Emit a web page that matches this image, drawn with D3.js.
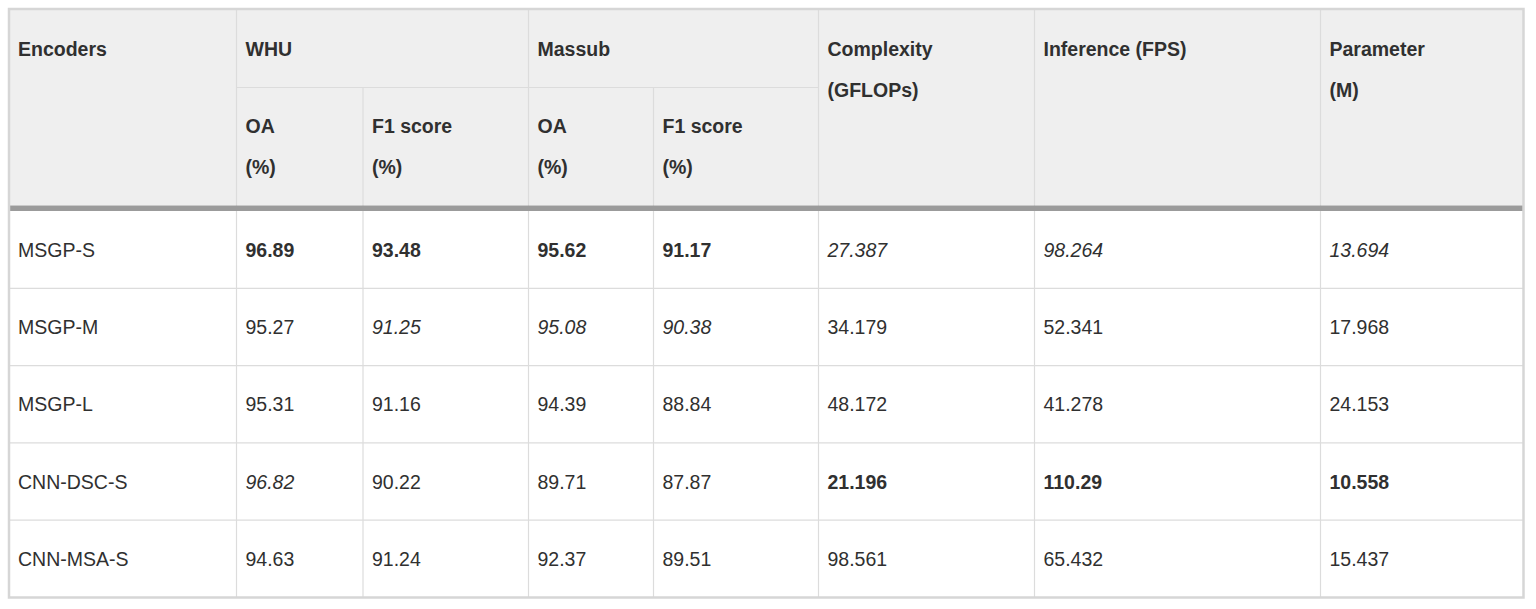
<!DOCTYPE html>
<html>
<head>
<meta charset="utf-8">
<script src="https://cdn.jsdelivr.net/npm/d3@7"></script>
<style>
  body { margin: 0; background: #fff; }
  svg text { font-family: "Liberation Sans", Arial, Helvetica, sans-serif; font-size: 19.5px; fill: #303030; }
</style>
</head>
<body>
<div id="table-wrapper"></div>
<script>
// Data
const encoders = ["MSGP-S", "MSGP-M", "MSGP-L", "CNN-DSC-S", "CNN-MSA-S"]
const whuOA   = ["96.89", "95.27", "95.31", "96.82", "94.63"]
const whuF1   = ["93.48", "91.25", "91.16", "90.22", "91.24"]
const massOA  = ["95.62", "95.08", "94.39", "89.71", "92.37"]
const massF1  = ["91.17", "90.38", "88.84", "87.87", "89.51"]
const gflops  = ["27.387", "34.179", "48.172", "21.196", "98.561"]
const fps     = ["98.264", "52.341", "41.278", "110.29", "65.432"]
const params  = ["13.694", "17.968", "24.153", "10.558", "15.437"]

// b = bold (best), i = italic (second), n = normal
const whuOAStyle  = ["b", "n", "n", "i", "n"]
const whuF1Style  = ["b", "i", "n", "n", "n"]
const massOAStyle = ["b", "i", "n", "n", "n"]
const massF1Style = ["b", "i", "n", "n", "n"]
const gflopsStyle = ["i", "n", "n", "b", "n"]
const fpsStyle    = ["i", "n", "n", "b", "n"]
const paramsStyle = ["i", "n", "n", "b", "n"]

const columns = ["enc", "whuOA", "whuF1", "massOA", "massF1", "gflops", "fps", "params"]
const groupHeaders = [
  { label: ["Encoders"], from: "enc", to: "enc" },
  { label: ["WHU"], from: "whuOA", to: "whuF1" },
  { label: ["Massub"], from: "massOA", to: "massF1" },
  { label: ["Complexity", "(GFLOPs)"], from: "gflops", to: "gflops" },
  { label: ["Inference (FPS)"], from: "fps", to: "fps" },
  { label: ["Parameter", "(M)"], from: "params", to: "params" },
]
const subHeaders = [
  { col: "whuOA", label: ["OA", "(%)"] },
  { col: "whuF1", label: ["F1 score", "(%)"] },
  { col: "massOA", label: ["OA", "(%)"] },
  { col: "massF1", label: ["F1 score", "(%)"] },
]
const bodyValues = { enc: encoders, whuOA, whuF1, massOA, massF1, gflops, fps, params }
const bodyStyles = { whuOA: whuOAStyle, whuF1: whuF1Style, massOA: massOAStyle,
  massF1: massF1Style, gflops: gflopsStyle, fps: fpsStyle, params: paramsStyle }

// Layout
const dimensions = { width: 1536, height: 609 }
const tableLeft = 9, tableRight = 1523.5
const tableTop = 9, subTop = 87.5, headBottom = 205.5, bodyTop = 211, tableBottom = 597.5
const colLefts = [tableLeft, 236.5, 363, 528.5, 653.5, 818.5, 1034.5, 1320.5]
const padX = 9, lineGap = 40.5

const xLeft = d3.scaleOrdinal().domain(columns).range(colLefts)
const xRight = c => {
  const i = columns.indexOf(c)
  return i === columns.length - 1 ? tableRight : colLefts[i + 1]
}
const yRow = d3.scaleBand().domain(encoders).range([bodyTop, tableBottom])

const svg = d3.select("#table-wrapper")
  .append("svg")
    .attr("width", dimensions.width)
    .attr("height", dimensions.height)

// header background
svg.append("rect")
    .attr("x", tableLeft).attr("y", tableTop)
    .attr("width", tableRight - tableLeft).attr("height", headBottom - tableTop)
    .attr("fill", "#efefef")

const grid = svg.append("g").attr("stroke", "#dcdcdc").attr("stroke-width", 1.2)

// vertical lines
grid.selectAll(".vline")
  .data(columns.slice(1))
  .join("line")
    .attr("x1", d => xLeft(d)).attr("x2", d => xLeft(d))
    .attr("y1", d => (d === "whuF1" || d === "massF1") ? subTop : tableTop)
    .attr("y2", tableBottom)

// sub-header horizontal lines
grid.selectAll(".subline")
  .data(groupHeaders.filter(g => g.from !== g.to))
  .join("line")
    .attr("x1", d => xLeft(d.from)).attr("x2", d => xRight(d.to))
    .attr("y1", subTop).attr("y2", subTop)

// body row lines
grid.selectAll(".hline")
  .data(encoders.slice(1))
  .join("line")
    .attr("x1", tableLeft).attr("x2", tableRight)
    .attr("y1", d => yRow(d)).attr("y2", d => yRow(d))

// thick header separator
svg.append("line")
    .attr("x1", tableLeft).attr("x2", tableRight)
    .attr("y1", (headBottom + bodyTop) / 2).attr("y2", (headBottom + bodyTop) / 2)
    .attr("stroke", "#9b9b9b").attr("stroke-width", bodyTop - headBottom)

// outer border
svg.append("rect")
    .attr("x", tableLeft).attr("y", tableTop)
    .attr("width", tableRight - tableLeft).attr("height", tableBottom - tableTop)
    .attr("fill", "none").attr("stroke", "#d6d6d6").attr("stroke-width", 2.5)

// header text
const headText = svg.append("g").attr("font-weight", "bold")
headText.selectAll(".group")
  .data(groupHeaders)
  .join("text")
    .attr("x", d => xLeft(d.from) + padX)
    .attr("y", 56)
  .selectAll("tspan")
  .data(d => d.label.map(l => ({ l, x: xLeft(d.from) + padX })))
  .join("tspan")
    .attr("x", d => d.x)
    .attr("dy", (d, i) => i === 0 ? 0 : lineGap)
    .text(d => d.l)

headText.selectAll(".sub")
  .data(subHeaders)
  .join("text")
    .attr("x", d => xLeft(d.col) + padX)
    .attr("y", 133)
  .selectAll("tspan")
  .data(d => d.label.map(l => ({ l, x: xLeft(d.col) + padX })))
  .join("tspan")
    .attr("x", d => d.x)
    .attr("dy", (d, i) => i === 0 ? 0 : lineGap)
    .text(d => d.l)

// body cells
const cells = columns.flatMap(c => encoders.map((e, i) => ({
  col: c, row: e, value: bodyValues[c][i], style: bodyStyles[c] ? bodyStyles[c][i] : "n"
})))

svg.append("g").selectAll("text")
  .data(cells)
  .join("text")
    .attr("x", d => xLeft(d.col) + padX)
    .attr("y", d => yRow(d.row) + yRow.bandwidth() / 2 + 7)
    .attr("font-weight", d => d.style === "b" ? "bold" : "normal")
    .attr("font-style", d => d.style === "i" ? "italic" : "normal")
    .text(d => d.value)
</script>
</body>
</html>
